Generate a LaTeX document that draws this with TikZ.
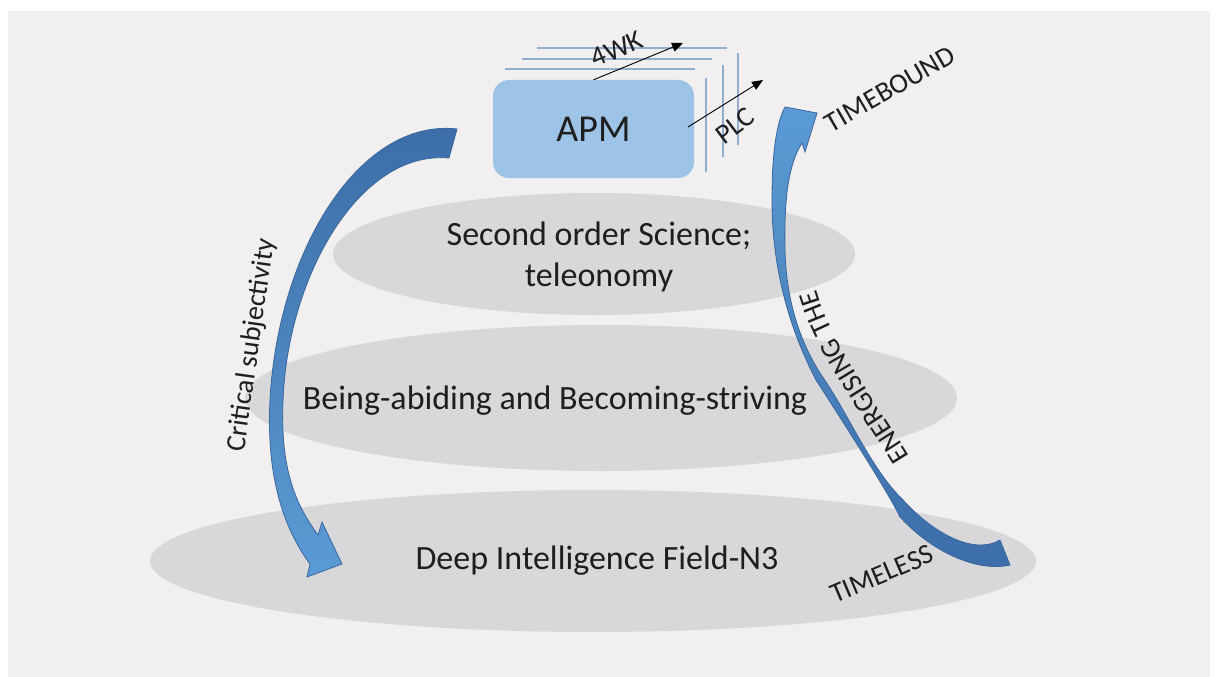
\documentclass[tikz,border=0pt]{standalone}
\usepackage{fontspec}
\setmainfont{Carlito}
\usetikzlibrary{shapes.geometric,arrows.meta,decorations.text}
\definecolor{bgc}{HTML}{F1EFF0}
\definecolor{ellc}{HTML}{D8D8DB}
\definecolor{boxc}{HTML}{9DC3E6}
\definecolor{linec}{HTML}{8FAECF}
\definecolor{arrdark}{HTML}{3C6DA8}
\definecolor{arrlight}{HTML}{5B9BD5}
\definecolor{arredge}{HTML}{3A679C}
\definecolor{txt}{HTML}{1E1E1E}
\newcommand\bodyfont{\fontsize{34}{41}\selectfont}
\newcommand\lblfont{\fontsize{28}{34}\selectfont}
\begin{document}
\begin{tikzpicture}[x=1pt,y=-1pt,
  layer/.style={ellipse, fill=ellc, inner sep=0pt},
  bodytext/.style={text=txt, font=\bodyfont, align=center, inner sep=0pt},
  lbl/.style={text=txt, font=\lblfont, inner sep=0pt},
  frame/.style={draw=linec, line width=1.1pt},
  blk/.style={draw=black, line width=0.9pt, -{Triangle[length=11pt,width=9pt]}},
  bigarrow/.style={draw=arredge, line width=0.8pt}]
\useasboundingbox (0,0) rectangle (1216,677);
\fill[white] (0,0) rectangle (1216,677);
\fill[bgc] (8,11) rectangle (1210,677);

% layers
\node[layer, minimum width=522pt, minimum height=122pt] (sci) at (594,254) {};
\node[layer, minimum width=712pt, minimum height=146pt] (being) at (601,398) {};
\node[layer, minimum width=886pt, minimum height=142pt] (deep) at (593,561) {};
\node[bodytext] (scit) at (599,257) {Second order Science;\\teleonomy};
\node[bodytext] (beingt) at (555,401) {Being-abiding and Becoming-striving};
\node[bodytext] (deept) at (597,561) {Deep Intelligence Field-N3};

% APM box and frame lines
\draw[frame] (537,48) -- (727,48);
\draw[frame] (522,59) -- (712,59);
\draw[frame] (505,69) -- (695,69);
\draw[frame] (706,78) -- (706,172);
\draw[frame] (723,65) -- (723,157);
\draw[frame] (738,53) -- (738,145);
\node[fill=boxc, rounded corners=16pt, minimum width=201pt, minimum height=98pt,
      text=txt, font=\fontsize{38}{40}\selectfont] (apm) at (593.5,129) {APM};
\coordinate (wkend) at (683,43);
\coordinate (plcstart) at (688,127);
\coordinate (plcend) at (763,80);
\draw[blk] (apm.north) -- (wkend);
\draw[blk] (plcstart) -- (plcend);
\node[lbl, rotate=23.5] (wk) at (617,49) {4WK};
\node[lbl, rotate=37] (plc) at (735,126) {PLC};

% left curved arrow
\path[bigarrow, top color=arrdark, bottom color=arrlight]
  (457,129) .. controls (360,118) and (278,250) .. (270,400)
  .. controls (266,480) and (285,530) .. (310,564)
  -- (307,577) -- (342,564) -- (322,522) -- (318,535)
  .. controls (296,505) and (280,470) .. (283,400)
  .. controls (288,275) and (360,150) .. (449,158) -- cycle;

% right curved arrow
\path[bigarrow, top color=arrlight, bottom color=arrdark]
  (1000,540) -- (1010,565)
  .. controls (980,572) and (935,555) .. (900,517)
  .. controls (888,492) and (845,425) .. (816,380)
  .. controls (790,330) and (772,270) .. (772,200)
  .. controls (772,150) and (777,122) .. (785,107)
  -- (817,113) -- (805,152) -- (802,143)
  .. controls (788,165) and (784,200) .. (785,250)
  .. controls (786,300) and (800,345) .. (826,382)
  .. controls (850,418) and (872,470) .. (903,500)
  .. controls (935,535) and (975,555) .. (1000,540) -- cycle;

% labels
\node[lbl, rotate=82] (crit) at (252,345) {Critical subjectivity};
\node[lbl, rotate=30] (tb) at (890,89) {TIMEBOUND};
\node[lbl, rotate=23] (tl) at (882,574) {TIMELESS};
\path[decorate, decoration={text along path, text align=center,
  text={|\lblfont\color{txt}|ENERGISING THE}}]
  (918,471) .. controls (880,405) and (825,340) .. (812,273);
\end{tikzpicture}
\end{document}
